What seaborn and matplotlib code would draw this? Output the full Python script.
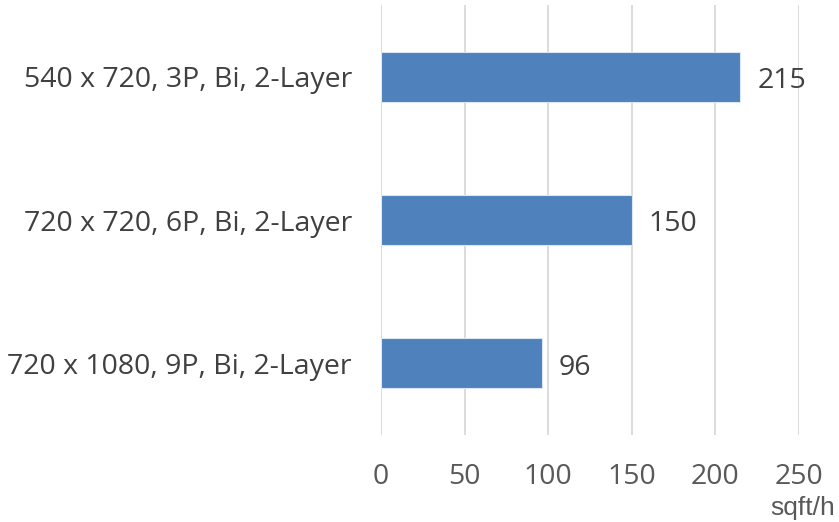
import matplotlib
matplotlib.use("Agg")
import matplotlib.pyplot as plt
import seaborn as sns
import pandas as pd

# ---- data ----
configs = ["540 x 720, 3P, Bi, 2-Layer",
           "720 x 720, 6P, Bi, 2-Layer",
           "720 x 1080, 9P, Bi, 2-Layer"]
speeds = [215, 150, 96]
x_ticks = [0, 50, 100, 150, 200, 250]
unit_label = "sqft/h"

BAR_COLOR = "#4F81BD"
TEXT_COLOR = "#404040"

sns.set_theme(style="white")
plt.rcParams["font.family"] = ["Open Sans", "DejaVu Sans"]

df = pd.DataFrame({"config": configs, "speed": speeds})

fig = plt.figure(figsize=(8.39, 5.22), dpi=100)
ax = fig.add_axes([381 / 839, 1 - 435 / 522, 418 / 839, 430 / 522])

sns.barplot(data=df, x="speed", y="config", orient="h", color=BAR_COLOR,
            saturation=1, width=0.35, edgecolor="#DCE6F2", linewidth=0.8, ax=ax, zorder=3)

ax.set_xlim(0, 250)
ax.set_ylim(2.5, -0.5)
ax.set_xticks(x_ticks)
ax.grid(axis="x", color="#D9D9D9", linewidth=1.3, zorder=0)
ax.set_axisbelow(True)
for s in ax.spines.values():
    s.set_visible(False)

ax.set_xlabel("")
ax.set_ylabel("")
ax.tick_params(axis="x", length=0, pad=20, labelsize=20.5, labelcolor="#595959")
ax.tick_params(axis="y", length=0, pad=21, labelsize=20.5, labelcolor=TEXT_COLOR)

for i, v in enumerate(speeds):
    ax.text(v + 10, i + 0.03, str(v), va="center", ha="left", fontsize=20.5, color=TEXT_COLOR)

fig.text(835 / 839, 1 - 508 / 522, unit_label, ha="right", va="center",
         fontsize=19, color="#595959", family=["Liberation Sans", "DejaVu Sans"])

fig.savefig("out.png", dpi=100)
